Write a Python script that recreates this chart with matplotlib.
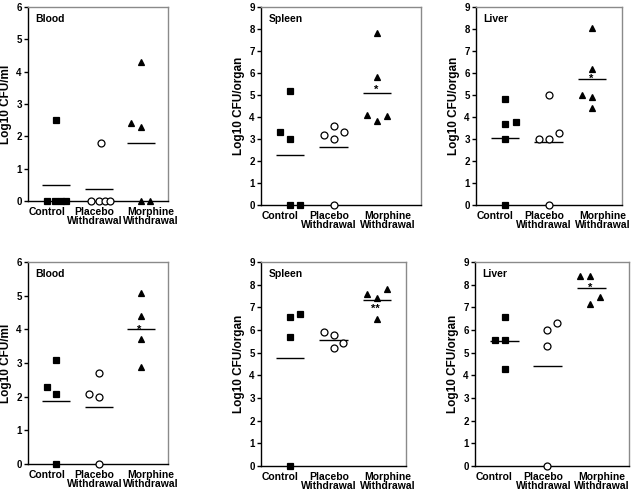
import numpy as np
import matplotlib
matplotlib.use("Agg")
import matplotlib.pyplot as plt

plt.rcParams["font.family"] = ["Liberation Sans", "DejaVu Sans"]
plt.rcParams["font.weight"] = "bold"

GROUPS = ["Control", "Placebo\nWithdrawal", "Morphine\nWithdrawal"]
MARKERS = [("s", "black"), ("o", "white"), ("^", "black")]

# top row: Blood / Spleen / Liver
blood_top_control = [2.5, 0, 0, 0, 0]
blood_top_placebo = [1.78, 0, 0, 0, 0]
blood_top_morphine = [4.3, 2.4, 2.28, 0, 0]

spleen_top_control = [5.18, 3.3, 3.0, 0, 0]
spleen_top_placebo = [3.6, 3.2, 3.3, 3.0, 0]
spleen_top_morphine = [7.82, 5.81, 4.07, 3.82, 4.05]

liver_top_control = [4.8, 3.7, 3.77, 3.0, 0]
liver_top_placebo = [5.02, 3.0, 3.0, 3.28, 0]
liver_top_morphine = [8.06, 6.2, 4.99, 4.92, 4.43]

# bottom row
blood_bot_control = [3.09, 2.29, 2.08, 0]
blood_bot_placebo = [2.7, 2.09, 1.99, 0]
blood_bot_morphine = [5.09, 4.39, 3.7, 2.88]

spleen_bot_control = [6.59, 6.71, 5.71, 0]
spleen_bot_placebo = [5.9, 5.8, 5.19, 5.41]
spleen_bot_morphine = [7.61, 7.8, 7.39, 6.49]

liver_bot_control = [6.58, 5.58, 5.58, 4.29]
liver_bot_placebo = [6.29, 5.99, 5.29, 0]
liver_bot_morphine = [8.39, 8.39, 7.16, 7.47]

# horizontal scatter of the points inside each group (category units)
jit_blood_top = [[0, -0.21, -0.02, 0.1, 0.23], [0.05, -0.17, 0.02, 0.14, 0.26], [0, -0.24, 0, 0, 0.22]]
jit_spleen_top = [[0, -0.23, 0, 0, 0.23], [0, -0.23, 0.24, 0, 0], [0, 0, -0.22, 0, 0.23]]
jit_liver_top = [[0, 0, 0.24, 0, 0], [0, -0.23, 0, 0.23, 0], [0, 0, -0.22, 0, 0]]
jit_blood_bot = [[0, -0.23, 0, 0], [0, -0.23, 0, 0], [0, 0, 0, 0]]
jit_spleen_bot = [[0, 0.22, 0, 0], [-0.23, 0, 0, 0.23], [-0.23, 0.23, 0, 0]]
jit_liver_bot = [[0.01, -0.22, 0.01, 0.01], [0.22, -0.02, -0.02, -0.02], [-0.25, -0.02, -0.02, 0.2]]

panels = [
    # title, ylabel, ymax, data, jitter, star, star_y, axes rect, xlim right
    ("Blood", "Log10 CFU/ml", 6,
     [blood_top_control, blood_top_placebo, blood_top_morphine], jit_blood_top,
     None, None, [0.0443, 0.5898, 0.2215, 0.3959], 3.64),
    ("Spleen", "Log10 CFU/organ", 9,
     [spleen_top_control, spleen_top_placebo, spleen_top_morphine], jit_spleen_top,
     "*", 5.12, [0.413, 0.5816, 0.253, 0.404], 4.01),
    ("Liver", "Log10 CFU/organ", 9,
     [liver_top_control, liver_top_placebo, liver_top_morphine], jit_liver_top,
     "*", 5.62, [0.7532, 0.5816, 0.231, 0.404], 3.69),
    ("Blood", "Log10 CFU/ml", 6,
     [blood_bot_control, blood_bot_placebo, blood_bot_morphine], jit_blood_bot,
     "*", 3.9, [0.0443, 0.0531, 0.2215, 0.4122], 3.64),
    ("Spleen", "Log10 CFU/organ", 9,
     [spleen_bot_control, spleen_bot_placebo, spleen_bot_morphine], jit_spleen_bot,
     "**", 6.82, [0.413, 0.049, 0.2294, 0.4163], 3.67),
    ("Liver", "Log10 CFU/organ", 9,
     [liver_bot_control, liver_bot_placebo, liver_bot_morphine], jit_liver_bot,
     "*", 7.74, [0.7516, 0.049, 0.2437, 0.4163], 3.87),
]

fig = plt.figure(figsize=(6.32, 4.90), dpi=100, facecolor="white")

for title, ylabel, ymax, groups, jitter, star, star_y, rect, xr in panels:
    ax = fig.add_axes(rect)
    for i, (vals, jit) in enumerate(zip(groups, jitter)):
        pos = i + 1
        m, fc = MARKERS[i]
        xs = pos + np.array(jit)
        ax.plot(xs, vals, linestyle="none", marker=m, markersize=5.0,
                markerfacecolor=fc, markeredgecolor="black", markeredgewidth=0.9,
                clip_on=False, zorder=3)
        mean = np.mean(vals)
        ax.hlines(mean, pos - 0.33, pos + 0.33, color="black", lw=1.0, zorder=2)
    if star:
        ax.text(2.97, star_y, star, ha="center", va="baseline", fontsize=8,
                fontweight="bold", zorder=4)

    ax.set_xlim(0.33, xr)
    ax.set_ylim(0, ymax)
    ax.set_yticks(range(0, ymax + 1))
    ax.set_xticks([0.77, 1.9, 3.24])
    ax.set_xticklabels(GROUPS, fontsize=7.5, fontweight="bold", linespacing=0.95)
    ax.tick_params(axis="x", length=0, pad=4)
    ax.tick_params(axis="y", length=3, width=1, labelsize=7, pad=1.5)
    for lab in ax.get_yticklabels():
        lab.set_fontweight("bold")
    ax.set_ylabel(ylabel, fontsize=8.5, fontweight="bold", labelpad=3)
    ax.text(0.05, 0.965, title, transform=ax.transAxes, ha="left", va="top",
            fontsize=7.5, fontweight="bold")
    ax.spines["left"].set_color("black")
    ax.spines["bottom"].set_color("black")
    ax.spines["top"].set_color("#8a8a8a")
    ax.spines["right"].set_color("#8a8a8a")
    for s in ax.spines.values():
        s.set_linewidth(1.0)

fig.savefig("out.png", dpi=100, facecolor="white")
